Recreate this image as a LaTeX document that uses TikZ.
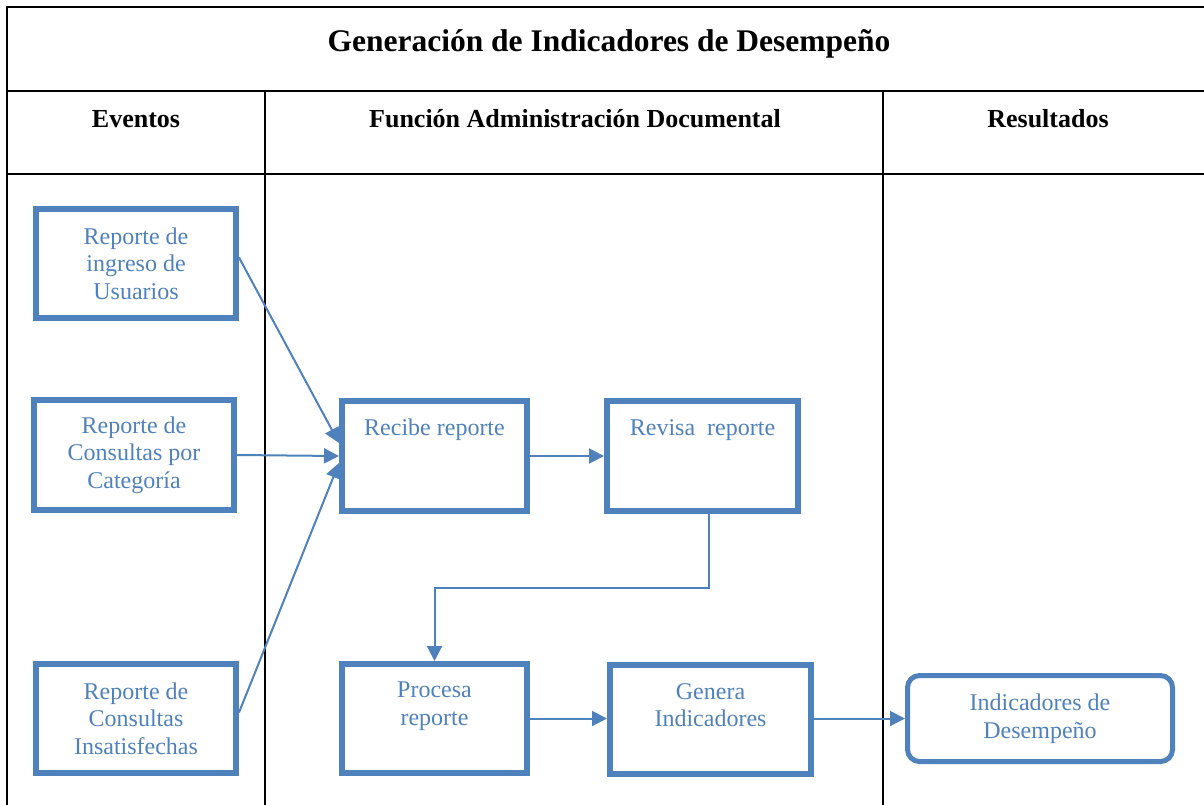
\documentclass[tikz,border=0pt]{standalone}
\usepackage{fontspec}
\setmainfont{Liberation Serif}
\usetikzlibrary{arrows.meta,calc}
\definecolor{bblue}{HTML}{4F81BD}
\tikzset{
  grid/.style={line width=2pt,draw=black},
  box/.style={draw=bblue,line width=6pt,text=bblue,align=center,font=\fontsize{24}{27.6}\selectfont,inner sep=0pt},
  rbox/.style={box,line width=5pt,rounded corners=12pt},
  toplab/.style={text=bblue,align=center,font=\fontsize{24}{27.6}\selectfont,inner sep=0pt,anchor=north,yshift=-21pt},
  conn/.style={draw=bblue,line width=2pt,-{Triangle[length=15pt,width=15pt]}},
  head/.style={font=\bfseries\fontsize{26}{30}\selectfont},
  ttl/.style={font=\bfseries\fontsize{31.5}{36}\selectfont}
}
\begin{document}
\begin{tikzpicture}[x=1pt,y=-1pt]
\useasboundingbox (0,0) rectangle (1204,804);
% table
\draw[grid] (7,805) -- (7,7) -- (1205,7);
\draw[grid] (7,91) -- (1205,91);
\draw[grid] (7,174) -- (1205,174);
\draw[grid] (265,91) -- (265,805);
\draw[grid] (883,91) -- (883,805);
\node[ttl] (title) at (609,44) {Generación de Indicadores de Desempeño};
\node[head] (h1) at (136,119) {Eventos};
\node[head] (h2) at (575,119) {Función Administración Documental};
\node[head] (h3) at (1048,119) {Resultados};
% boxes
\node[box,minimum width=200pt,minimum height=109pt] (r1) at (136,263.5) {Reporte de\\ingreso de\\Usuarios};
\node[box,minimum width=200pt,minimum height=110pt] (r2) at (134,455) {Reporte de\\Consultas por\\Categoría};
\node[box,minimum width=200pt,minimum height=109pt] (r3) at (136,718.5) {Reporte de\\Consultas\\Insatisfechas};
\node[box,minimum width=185pt,minimum height=110pt,label={[toplab]north:Recibe reporte}] (recibe) at (434.5,456) {};
\node[box,minimum width=191pt,minimum height=110pt,label={[toplab]north:Revisa\ \ reporte}] (revisa) at (702.5,456) {};
\node[box,minimum width=185pt,minimum height=109pt,label={[toplab]north:Procesa\\reporte}] (procesa) at (434.5,718.5) {};
\node[box,minimum width=201pt,minimum height=109pt,label={[toplab]north:Genera\\Indicadores}] (genera) at (710.5,719.5) {};
\node[rbox,minimum width=265pt,minimum height=86pt] (ind) at (1040,718.5) {Indicadores de\\Desempeño};
% connectors
\draw[conn] ([yshift=6pt]r1.east) -- ([yshift=13pt]recibe.west);
\draw[conn] (r2.east) -- (recibe.west);
\draw[conn] ([yshift=6pt]r3.east) -- ([yshift=-7pt]recibe.west);
\draw[conn] (recibe.east) -- (revisa.west);
\draw[conn] ([xshift=6.5pt]revisa.south) -- ++(0,74) -| (procesa.north);
\draw[conn] (procesa.east) -- (procesa.east -| genera.west);
\draw[conn] ([yshift=1pt]genera.east) -- ([yshift=1pt]genera.east -| ind.west);
\end{tikzpicture}
\end{document}
